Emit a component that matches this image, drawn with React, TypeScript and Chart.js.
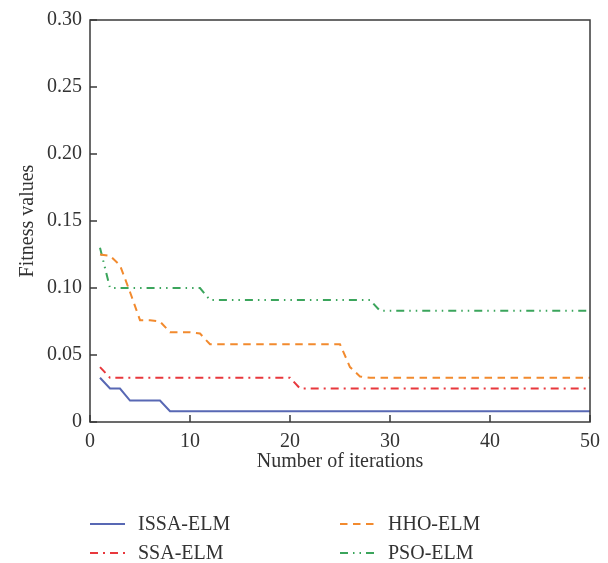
import React, { useEffect, useRef } from 'react';
import { Chart, registerables } from 'chart.js';

Chart.register(...registerables);

const iterations = [
  1, 2, 3, 4, 5, 6, 7, 8, 9, 10,
  11, 12, 13, 14, 15, 16, 17, 18, 19, 20,
  21, 22, 23, 24, 25, 26, 27, 28, 29, 30,
  31, 32, 33, 34, 35, 36, 37, 38, 39, 40,
  41, 42, 43, 44, 45, 46, 47, 48, 49, 50,
];

const issaElm = [
  0.033, 0.025, 0.025, 0.016, 0.016, 0.016, 0.016, 0.008, 0.008, 0.008,
  0.008, 0.008, 0.008, 0.008, 0.008, 0.008, 0.008, 0.008, 0.008, 0.008,
  0.008, 0.008, 0.008, 0.008, 0.008, 0.008, 0.008, 0.008, 0.008, 0.008,
  0.008, 0.008, 0.008, 0.008, 0.008, 0.008, 0.008, 0.008, 0.008, 0.008,
  0.008, 0.008, 0.008, 0.008, 0.008, 0.008, 0.008, 0.008, 0.008, 0.008,
];

const ssaElm = [
  0.041, 0.033, 0.033, 0.033, 0.033, 0.033, 0.033, 0.033, 0.033, 0.033,
  0.033, 0.033, 0.033, 0.033, 0.033, 0.033, 0.033, 0.033, 0.033, 0.033,
  0.025, 0.025, 0.025, 0.025, 0.025, 0.025, 0.025, 0.025, 0.025, 0.025,
  0.025, 0.025, 0.025, 0.025, 0.025, 0.025, 0.025, 0.025, 0.025, 0.025,
  0.025, 0.025, 0.025, 0.025, 0.025, 0.025, 0.025, 0.025, 0.025, 0.025,
];

const hhoElm = [
  0.125, 0.124, 0.117, 0.097, 0.076, 0.076, 0.075, 0.067, 0.067, 0.067,
  0.066, 0.058, 0.058, 0.058, 0.058, 0.058, 0.058, 0.058, 0.058, 0.058,
  0.058, 0.058, 0.058, 0.058, 0.058, 0.041, 0.034, 0.033, 0.033, 0.033,
  0.033, 0.033, 0.033, 0.033, 0.033, 0.033, 0.033, 0.033, 0.033, 0.033,
  0.033, 0.033, 0.033, 0.033, 0.033, 0.033, 0.033, 0.033, 0.033, 0.033,
];

const psoElm = [
  0.130, 0.100, 0.100, 0.100, 0.100, 0.100, 0.100, 0.100, 0.100, 0.100,
  0.100, 0.091, 0.091, 0.091, 0.091, 0.091, 0.091, 0.091, 0.091, 0.091,
  0.091, 0.091, 0.091, 0.091, 0.091, 0.091, 0.091, 0.091, 0.083, 0.083,
  0.083, 0.083, 0.083, 0.083, 0.083, 0.083, 0.083, 0.083, 0.083, 0.083,
  0.083, 0.083, 0.083, 0.083, 0.083, 0.083, 0.083, 0.083, 0.083, 0.083,
];

const seriesNames = ['ISSA-ELM', 'SSA-ELM', 'HHO-ELM', 'PSO-ELM'];

const FONT = '"Liberation Serif", "Times New Roman", serif';
const TEXT = '#333333';
const FS = 20;

const toPoints = (vals: number[]) => vals.map((v, i) => ({ x: iterations[i], y: v }));

export default function App() {
  const ref = useRef<HTMLCanvasElement>(null);

  useEffect(() => {
    document.body.style.margin = '0';
    if (!ref.current) return;

    const boxPlugin = {
      id: 'boxTicks',
      afterDatasetsDraw(chart: any) {
        const { ctx, chartArea: a, scales } = chart;
        ctx.save();
        ctx.strokeStyle = '#3a3a3a';
        ctx.lineWidth = 1.5;
        ctx.strokeRect(a.left, a.top, a.right - a.left, a.bottom - a.top);
        ctx.beginPath();
        scales.x.ticks.forEach((t: any) => {
          const px = scales.x.getPixelForValue(t.value);
          ctx.moveTo(px, a.bottom);
          ctx.lineTo(px, a.bottom - 7);
        });
        scales.y.ticks.forEach((t: any) => {
          const py = scales.y.getPixelForValue(t.value);
          ctx.moveTo(a.left, py);
          ctx.lineTo(a.left + 7, py);
        });
        ctx.stroke();
        ctx.restore();
      },
    };

    const legendPlugin = {
      id: 'gridLegend',
      afterDraw(chart: any) {
        const { ctx, chartArea: a } = chart;
        const cols = [a.left, a.left + 250];
        const rows = [a.bottom + 102, a.bottom + 131];
        chart.data.datasets.forEach((ds: any, i: number) => {
          const x = cols[Math.floor(i / 2)];
          const y = rows[i % 2];
          ctx.save();
          ctx.strokeStyle = ds.borderColor;
          ctx.lineWidth = ds.borderWidth;
          ctx.setLineDash(ds.borderDash || []);
          ctx.beginPath();
          ctx.moveTo(x, y);
          ctx.lineTo(x + 35, y);
          ctx.stroke();
          ctx.setLineDash([]);
          ctx.fillStyle = TEXT;
          ctx.font = `${FS}px ${FONT}`;
          ctx.textBaseline = 'middle';
          ctx.textAlign = 'left';
          ctx.fillText(ds.label, x + 48, y + 1);
          ctx.restore();
        });
      },
    };

    const chart = new Chart(ref.current, {
      type: 'line',
      data: {
        datasets: [
          {
            label: seriesNames[0],
            data: toPoints(issaElm),
            borderColor: '#5868b4',
            borderWidth: 2,
            borderDash: [],
          },
          {
            label: seriesNames[1],
            data: toPoints(ssaElm),
            borderColor: '#e8383d',
            borderWidth: 2,
            borderDash: [8, 5, 2, 5],
          },
          {
            label: seriesNames[2],
            data: toPoints(hhoElm),
            borderColor: '#f28a2e',
            borderWidth: 2,
            borderDash: [7.5, 5.5],
          },
          {
            label: seriesNames[3],
            data: toPoints(psoElm),
            borderColor: '#3ba55c',
            borderWidth: 2,
            borderDash: [8, 5, 1.5, 5, 1.5, 5],
          },
        ] as any,
      },
      options: {
        animation: false,
        responsive: true,
        maintainAspectRatio: false,
        elements: {
          point: { radius: 0, hoverRadius: 0 },
          line: { tension: 0 },
        },
        layout: { padding: { top: 20, right: 18, bottom: 81, left: 0 } },
        plugins: {
          legend: { display: false },
          tooltip: { enabled: false },
        },
        scales: {
          x: {
            type: 'linear',
            min: 0,
            max: 50,
            grid: { display: false, drawTicks: false },
            border: { display: false },
            ticks: {
              stepSize: 10,
              padding: 8,
              color: TEXT,
              font: { family: FONT, size: FS },
            },
            title: {
              display: true,
              text: 'Number of iterations',
              color: TEXT,
              font: { family: FONT, size: FS },
              padding: { top: 4, bottom: 8 },
            },
            afterFit: (s: any) => {
              s.height = 60;
            },
          },
          y: {
            type: 'linear',
            min: 0,
            max: 0.3,
            grid: { display: false, drawTicks: false },
            border: { display: false },
            ticks: {
              stepSize: 0.05,
              padding: 8,
              color: TEXT,
              font: { family: FONT, size: FS },
              callback: (v: any) => (Number(v) === 0 ? '0' : Number(v).toFixed(2)),
            },
            title: {
              display: true,
              text: 'Fitness values',
              color: TEXT,
              font: { family: FONT, size: FS },
              padding: { top: 16, bottom: 0 },
            },
            afterFit: (s: any) => {
              s.width = 90;
            },
          },
        },
      } as any,
      plugins: [boxPlugin, legendPlugin],
    });

    return () => chart.destroy();
  }, []);

  return (
    <div style={{ position: 'relative', width: 608, height: 563 }}>
      <canvas ref={ref} />
    </div>
  );
}
